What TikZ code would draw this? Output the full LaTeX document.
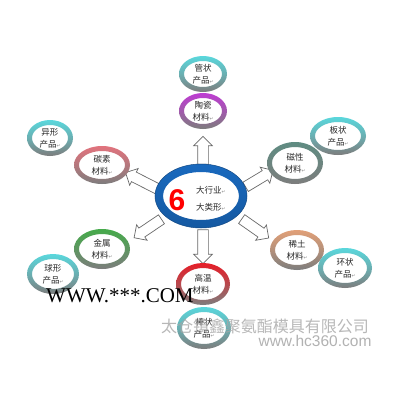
\documentclass[tikz,border=0pt]{standalone}
\usepackage{fontspec}
\setmainfont{Liberation Serif}
\newfontfamily\cjk{Noto Sans CJK SC}
\newfontfamily\dejavu{DejaVu Sans}
\newfontfamily\lsans{Liberation Sans}
\usetikzlibrary{shapes.arrows}
\definecolor{ringgray}{RGB}{125,125,125}
\definecolor{cyanr}{RGB}{90,215,220}
\definecolor{purpr}{RGB}{190,60,210}
\definecolor{pinkr}{RGB}{225,115,125}
\definecolor{tealr}{RGB}{95,140,130}
\definecolor{greenr}{RGB}{70,170,75}
\definecolor{peachr}{RGB}{225,160,120}
\definecolor{redr}{RGB}{230,30,40}
\definecolor{bluer}{RGB}{25,105,190}
\definecolor{arrowgray}{RGB}{105,105,105}
\newcommand\rmk{{\dejavu\fontsize{4.5}{4.5}\selectfont\textcolor{gray}{↵}}}
\newcommand\myring[5]{%
  \fill[white] (#1,#2) ellipse [x radius=#3pt-5pt, y radius=#4pt-5pt];
  \shade[even odd rule, top color=#5, bottom color=ringgray, middle color=#5!55!ringgray]
    (#1,#2) ellipse [x radius=#3pt, y radius=#4pt]
    (#1,#2) ellipse [x radius=#3pt-5pt, y radius=#4pt-5pt];}
\tikzset{
  lbl/.style={align=center, inner sep=0pt, font=\cjk\fontsize{8.5}{12}\selectfont, text=black!85},
  harrow/.style={single arrow, draw=arrowgray, fill=white, line width=0.7pt,
    inner xsep=0pt, inner ysep=5pt, single arrow head extend=4pt, minimum height=#1, anchor=center}
}
\begin{document}
\begin{tikzpicture}[x=1pt,y=-1pt]
\useasboundingbox (0,0) rectangle (400,400);
\fill[white] (0,0) rectangle (400,400);
% arrows
\node[harrow=28pt, rotate=90] (aU) at (203,153) {};
\node[harrow=34pt, rotate=-90] (aD) at (203,244) {};
\node[harrow=36pt, rotate=153] (aL) at (144,182) {};
\node[harrow=32pt, rotate=31] (aR) at (257,180) {};
\node[harrow=33pt, rotate=-146] (aLL) at (150,227) {};
\node[harrow=33pt, rotate=-35] (aLR) at (253,227) {};
% center ring
\fill[white] (201,196) ellipse [x radius=38pt, y radius=24pt];
\shade[even odd rule, top color=bluer, bottom color=bluer!85!black]
  (201,196) ellipse [x radius=46pt, y radius=32pt]
  (201,196) ellipse [x radius=38pt, y radius=24pt];
\draw[bluer!70!black, line width=0.5pt] (201,196) ellipse [x radius=46pt, y radius=32pt];
\node[inner sep=0pt] (six) at (177,200) {\lsans\bfseries\fontsize{30}{30}\selectfont\textcolor{red}{6}};
\node[lbl, anchor=west] (hy) at (196,190) {大行业\rmk};
\node[lbl, anchor=west] (lx) at (196,207) {大类形\rmk};
% outer rings
\myring{203}{74}{24}{18}{cyanr}
\node[lbl] (guan) at (203,74) {管状\\产品\rmk};
\myring{203}{111}{24}{18}{purpr}
\node[lbl] (tao) at (203,111) {陶瓷\\材料\rmk};
\myring{50}{138}{23}{18}{cyanr}
\node[lbl] (yi) at (50,138) {异形\\产品\rmk};
\myring{102}{165}{28}{19}{pinkr}
\node[lbl] (tan) at (102,165) {碳素\\材料\rmk};
\myring{338}{136}{28}{19}{cyanr}
\node[lbl] (ban) at (338,136) {板状\\产品\rmk};
\myring{295}{163}{28}{21}{tealr}
\node[lbl] (ci) at (295,163) {磁性\\材料\rmk};
\myring{102}{249}{28}{20}{greenr}
\node[lbl] (jin) at (102,249) {金属\\材料\rmk};
\myring{53}{274}{26}{20}{cyanr}
\node[lbl] (qiu) at (53,274) {球形\\产品\rmk};
\myring{297}{250}{27}{20}{peachr}
\node[lbl] (xi) at (297,250) {稀土\\材料\rmk};
\myring{345}{268}{27}{20}{cyanr}
\node[lbl] (huan) at (345,268) {环状\\产品\rmk};
\myring{203}{284}{27}{21}{redr}
\node[lbl] (gao) at (203,284) {高温\\材料\rmk};
\myring{204}{328}{27}{21}{cyanr}
\node[lbl] (bang) at (204,328) {棒状\\产品\rmk};
% watermarks
\node[anchor=base west, inner sep=0pt, font=\fontsize{21}{21}\selectfont] (www) at (46,302) {WWW.***.COM};
\node[inner sep=0pt, font=\cjk\fontsize{16}{16}\selectfont, text=black!35, text opacity=0.8] (co) at (265,326) {太仓镇鑫聚氨酯模具有限公司};
\node[inner sep=0pt, font=\lsans\fontsize{15.5}{15.5}\selectfont, text=black!30] (hc) at (315,341) {www.hc360.com};
\end{tikzpicture}
\end{document}
